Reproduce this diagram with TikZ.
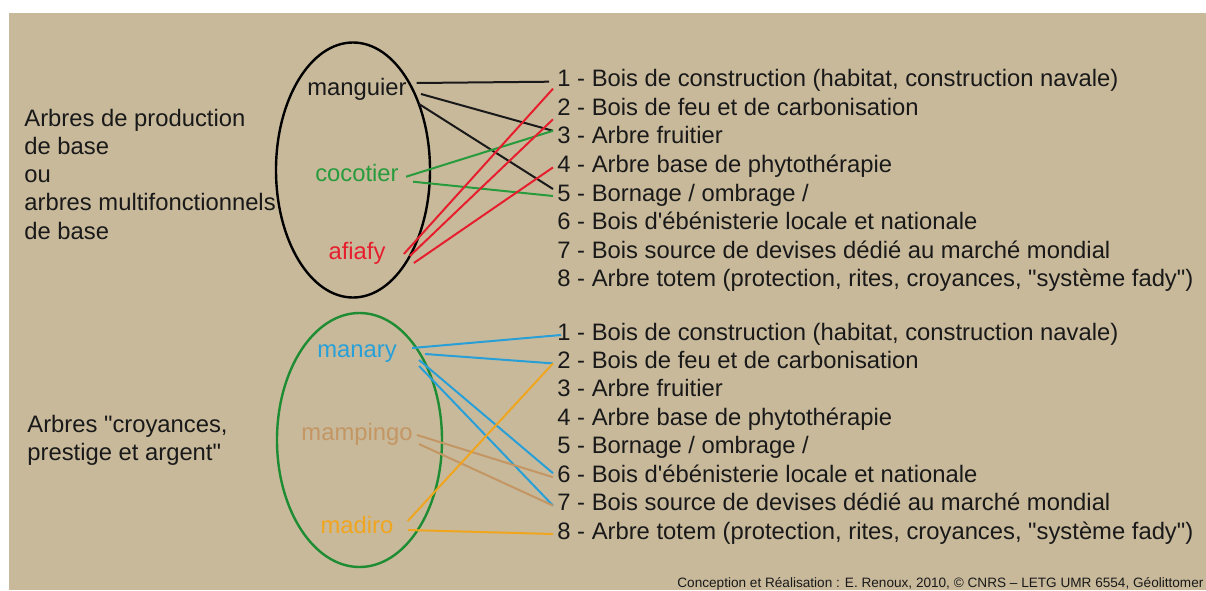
\documentclass[tikz,border=0pt]{standalone}
\usepackage{fontspec}
\setmainfont{Liberation Sans}[Ligatures=TeXOff]
\usetikzlibrary{shapes.geometric}
\definecolor{bgbeige}{RGB}{200,185,155}
\definecolor{inkdark}{RGB}{25,25,25}
\definecolor{setgreen}{RGB}{30,140,50}
\definecolor{cocogreen}{RGB}{40,155,60}
\definecolor{afired}{RGB}{230,30,45}
\definecolor{manblue}{RGB}{40,160,215}
\definecolor{mamtan}{RGB}{195,150,100}
\definecolor{madorange}{RGB}{240,165,30}
\tikzset{
  heading/.style={align=left,anchor=north west,inner sep=0pt,text=inkdark,
    font=\fontsize{11.9}{14.1}\selectfont},
  item/.style={anchor=base west,inner xsep=2pt,inner ysep=0pt,text=inkdark,
    text height=.75em,text depth=.25em,font=\fontsize{11.9}{14.1}\selectfont},
  tree/.style={anchor=base,inner sep=0pt,text height=.75em,text depth=.25em,
    font=\fontsize{11.9}{14.1}\selectfont},
  treeset/.style={draw,ellipse,inner sep=0pt,outer sep=0pt,line width=1.2pt},
  link/.style={line width=1pt}
}

\begin{document}
\begin{tikzpicture}[x=0.5pt,y=-0.5pt]

\useasboundingbox (0,0) rectangle (1206,590);
\fill[white] (0,0) rectangle (1206,590);
\fill[bgbeige] (9,13) rectangle (1206,590);

\node[heading] (prodhead) at (24,108.6) {
Arbres de production\\
de base\\
ou\\
arbres multifonctionnels\\
de base
};
\node[heading] (prestigehead) at (27,414.6) {
Arbres "croyances,\\
prestige et argent"
};

\node[treeset,minimum width=77pt,minimum height=127.5pt] (prodset) at (353,170) {};
\node[treeset,draw=setgreen,minimum width=82.5pt,minimum height=127pt] (prestigeset) at (359.5,440) {};

\node[tree,text=inkdark] (mang) at (357,95) {manguier};
\node[tree,text=cocogreen] (coco) at (357,181.7) {cocotier};
\node[tree,text=afired] (afia) at (357,259) {afiafy};
\node[tree,text=manblue] (mana) at (357,357) {manary};
\node[tree,text=mamtan] (mamp) at (357,440) {mampingo};
\node[tree,text=madorange] (madi) at (357,533) {madiro};

\node[item] (t1) at (553,86.7) {1 - Bois de construction (habitat, construction navale)};
\node[item] (t2) at (553,115.3) {2 - Bois de feu et de carbonisation};
\node[item] (t3) at (553,143.8) {3 - Arbre fruitier};
\node[item] (t4) at (553,172.4) {4 - Arbre base de phytothérapie};
\node[item] (t5) at (553,201) {5 - Bornage / ombrage /};
\node[item] (t6) at (553,229.5) {6 - Bois d'ébénisterie locale et nationale};
\node[item] (t7) at (553,258.1) {7 - Bois source de devises dédié au marché mondial};
\node[item] (t8) at (553,286.7) {8 - Arbre totem (protection, rites, croyances, "système fady")};

\node[item] (b1) at (553,340) {1 - Bois de construction (habitat, construction navale)};
\node[item] (b2) at (553,368.4) {2 - Bois de feu et de carbonisation};
\node[item] (b3) at (553,396.9) {3 - Arbre fruitier};
\node[item] (b4) at (553,425.3) {4 - Arbre base de phytothérapie};
\node[item] (b5) at (553,453.7) {5 - Bornage / ombrage /};
\node[item] (b6) at (553,482.2) {6 - Bois d'ébénisterie locale et nationale};
\node[item] (b7) at (553,510.6) {7 - Bois source de devises dédié au marché mondial};
\node[item] (b8) at (553,539) {8 - Arbre totem (protection, rites, croyances, "système fady")};

\draw[link,inkdark] ([shift={(4.75pt,3.5pt)}]mang.east) -- ([xshift=-2pt]t1.west);
\draw[link,inkdark] ([shift={(7pt,-2pt)}]mang.east) -- ([yshift=4pt]t3.west);
\draw[link,inkdark] ([shift={(6pt,-7pt)}]mang.east) -- ([yshift=3.5pt]t5.west);

\draw[link,cocogreen] ([xshift=3.5pt]coco.east) -- ([yshift=4pt]t3.west);
\draw[link,cocogreen] ([shift={(7pt,-2.5pt)}]coco.east) -- (t5.west);

\draw[link,afired] ([xshift=9pt]afia.east) -- ([yshift=-3.5pt]t1.west);
\draw[link,afired] ([shift={(12pt,-1pt)}]afia.east) -- ([yshift=-4.5pt]t2.west);
\draw[link,afired] ([shift={(14pt,-4.5pt)}]afia.east) -- (t4.west);

\draw[link,manblue] ([shift={(7.5pt,2pt)}]mana.east) -- ([xshift=4pt]b1.west);
\draw[link,manblue] ([shift={(14pt,-1pt)}]mana.east) -- (b2.west);
\draw[link,manblue] ([shift={(11pt,-4pt)}]mana.east) -- ([yshift=2pt]b6.west);
\draw[link,manblue] ([shift={(11pt,-7pt)}]mana.east) -- (b7.west);

\draw[link,mamtan] ([xshift=2pt]mamp.east) -- (b6.west);
\draw[link,mamtan] ([shift={(3pt,-4.5pt)}]mamp.east) -- (b7.west);

\draw[link,madorange] ([shift={(7pt,3.5pt)}]madi.east) -- (b2.west);
\draw[link,madorange] ([shift={(7pt,-1pt)}]madi.east) -- (b8.west);

\node[anchor=base west,inner sep=0pt,text=inkdark,font=\fontsize{6.8}{8}\selectfont] (credit) at (677,587)
{Conception et Réalisation : E. Renoux, 2010, © CNRS – LETG UMR 6554, Géolittomer};

\end{tikzpicture}
\end{document}
